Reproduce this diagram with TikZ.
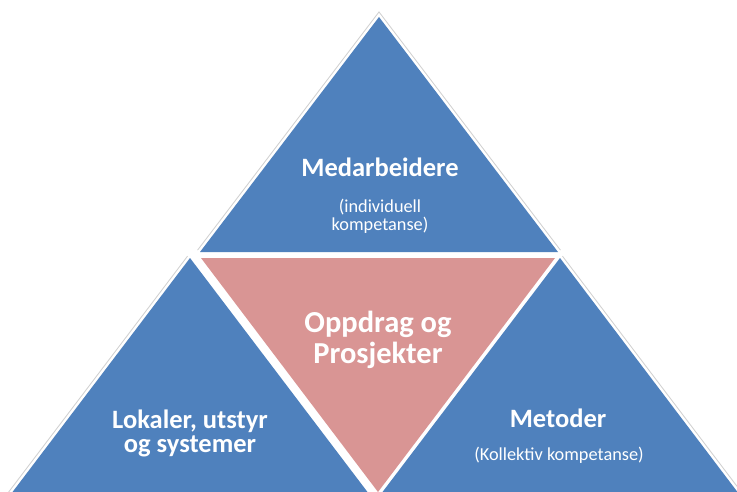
\documentclass[tikz,border=0pt]{standalone}
\usepackage{fontspec}
\setmainfont{Carlito}
\definecolor{tblue}{HTML}{4F81BD}
\definecolor{tpink}{HTML}{D99594}
\begin{document}
\begin{tikzpicture}[x=1pt,y=-1pt,
  shadowline/.style={draw=black!18,line width=7pt,line join=miter},
  whiteline/.style={draw=white,line width=5pt,line join=miter},
  title/.style={text=white,font=\bfseries\fontsize{26.5}{24}\selectfont,align=center,inner sep=0pt,anchor=base},
  bigtitle/.style={text=white,font=\bfseries\fontsize{30.5}{31}\selectfont,align=center,inner sep=0pt,anchor=base},
  subtitle/.style={text=white,font=\fontsize{18.3}{18}\selectfont,align=center,inner sep=0pt,anchor=base}]
\useasboundingbox (0,0) rectangle (737,492);
\clip (0,0) rectangle (737,492);
% corners
\coordinate (tA) at (379,17);  \coordinate (tL) at (200,252); \coordinate (tR) at (558,252);
\coordinate (pL) at (201,258); \coordinate (pR) at (555,258); \coordinate (pB) at (378,492);
\coordinate (lA) at (190,258); \coordinate (lL) at (11,494);  \coordinate (lR) at (369,494);
\coordinate (rA) at (560,258); \coordinate (rL) at (381,494); \coordinate (rR) at (739,494);
% outer shadow
\draw[shadowline] (lL) -- (lA);
\draw[shadowline] (tL) -- (tA) -- (tR);
\draw[shadowline] (rA) -- (rR);
% white borders
\draw[whiteline] (tA) -- (tL) -- (tR) -- cycle;
\draw[whiteline] (lA) -- (lL) -- (lR) -- cycle;
\draw[whiteline] (rA) -- (rL) -- (rR) -- cycle;
\draw[whiteline] (pL) -- (pR) -- (pB) -- cycle;
% fills
\fill[tblue] (tA) -- (tL) -- (tR) -- cycle;
\fill[tblue] (lA) -- (lL) -- (lR) -- cycle;
\fill[tblue] (rA) -- (rL) -- (rR) -- cycle;
\fill[tpink] (pL) -- (pR) -- (pB) -- cycle;
% texts
\node[title] (med) at (380,177) {Medarbeidere};
\node[subtitle] (medsub) at (380,230) {(individuell\\kompetanse)};
\node[bigtitle] (opp) at (378,363) {Oppdrag og\\Prosjekter};
\node[title] (lok) at (190,452) {Lokaler, utstyr\\og systemer};
\node[title] (met) at (558,427) {Metoder};
\node[subtitle] (metsub) at (559,460) {(Kollektiv kompetanse)};
\end{tikzpicture}
\end{document}
